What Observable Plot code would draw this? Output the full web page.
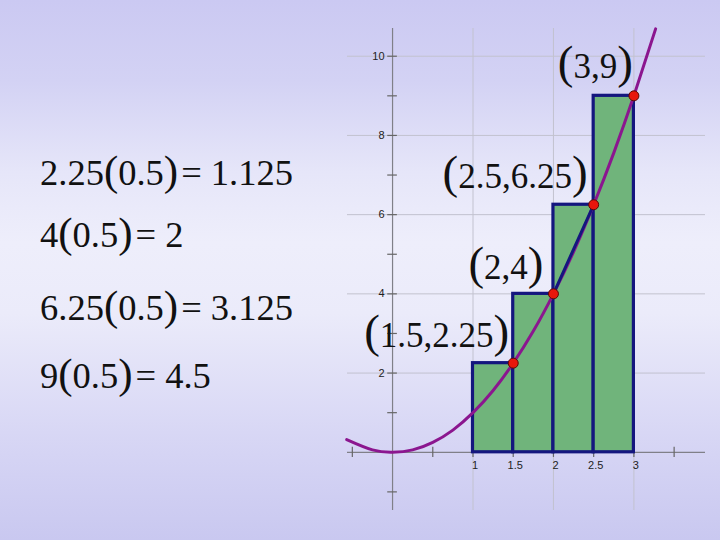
<!DOCTYPE html>
<html><head><meta charset="utf-8">
<script src="https://cdn.jsdelivr.net/npm/d3@7"></script>
<script src="https://cdn.jsdelivr.net/npm/@observablehq/plot@0.6"></script>
<style>
html,body{margin:0;padding:0;}
body{width:720px;height:540px;overflow:hidden;
background:linear-gradient(to bottom,#cbc9f2 0%,#d3d2f4 15%,#e6e6f9 32%,#eeeefb 45%,#ebebfa 58%,#d8d7f5 80%,#c9c8f0 100%);}
#chart svg{display:block;background:transparent;}
</style></head><body><div id="chart"></div>
<script>
// ---- data ----
const leftEdges  = [1, 1.5, 2, 2.5];
const rightEdges = [1.5, 2, 2.5, 3];
const heights    = [2.25, 4, 6.25, 9];
const pointX = [1.5, 2, 2.5, 3];
const pointY = [2.25, 4, 6.25, 9];
const pointLabels = ["(1.5,2.25)", "(2,4)", "(2.5,6.25)", "(3,9)"];
const curveX = [-0.57, -0.25, 0, 0.25, 0.5, 0.75, 1, 1.25, 1.5, 1.75, 2, 2.25, 2.5, 2.75, 3, 3.27];
const curveY = [0.32, 0.06, 0, 0.06, 0.25, 0.56, 1, 1.56, 2.25, 3.06, 4, 5.06, 6.25, 7.56, 9, 10.69];
const xTickVals = [-0.5, 0.5, 1, 1.5, 2, 2.5, 3, 3.5];
const xLabelVals = [1, 1.5, 2, 2.5, 3];
const xLabelText = ["1", "1.5", "2", "2.5", "3"];
const yTickVals = [-1, 1, 2, 3, 4, 5, 6, 7, 8, 9, 10];
const yLabelVals = [2, 4, 6, 8, 10];
const yLabelText = ["2", "4", "6", "8", "10"];
const xGrid = [1, 2, 3];
const yGrid = [2, 4, 6, 8, 10];
const eqHeight = ["2.25", "4", "6.25", "9"];
const eqWidth = "0.5";
const eqArea = ["1.125", "2", "3.125", "4.5"];

// ---- layout ----
const XMIN = -0.56, XMAX = 3.89, YMIN = -1.47, YMAX = 10.7;
const rects = leftEdges.map((x1, i) => ({x1, x2: rightEdges[i], h: heights[i]}));
const curve = curveX.map((x, i) => ({x, y: curveY[i]}));
const pts = pointX.map((x, i) => ({x, y: pointY[i], label: pointLabels[i]}));
const serif = "'Liberation Serif','Times New Roman',serif";
const sans = "'Liberation Sans',Arial,sans-serif";

function labelMark(i, dx, dy) {
  return Plot.text([pts[i]], {x: "x", y: "y", text: "label", textAnchor: "end", lineAnchor: "middle",
    dx, dy, fontSize: 35, fontFamily: serif, fill: "#111"});
}

const plot = Plot.plot({
  width: 720, height: 540, margin: 0,
  style: {background: "transparent", overflow: "visible"},
  x: {domain: [XMIN, XMAX], range: [347, 705], axis: null},
  y: {domain: [YMIN, YMAX], range: [510, 28], axis: null},
  marks: [
    Plot.ruleY(yGrid, {y: d => d, x1: XMIN, x2: XMAX, stroke: "#c2c2cf", strokeWidth: 1}),
    Plot.ruleX(xGrid, {x: d => d, y1: YMIN, y2: YMAX, stroke: "#c2c2cf", strokeWidth: 1}),
    Plot.ruleY([0], {y: d => d, x1: XMIN, x2: XMAX, stroke: "#808088", strokeWidth: 1.2}),
    Plot.ruleX([0], {x: d => d, y1: YMIN, y2: YMAX, stroke: "#808088", strokeWidth: 1.2}),
    Plot.ruleX(xTickVals, {x: d => d, y1: -0.13, y2: 0.13, stroke: "#666", strokeWidth: 1.2}),
    Plot.ruleY(yTickVals, {y: d => d, x1: -0.06, x2: 0.06, stroke: "#666", strokeWidth: 1.2}),
    Plot.text(xLabelVals, {x: d => d, y: 0, text: (d, i) => xLabelText[i], dy: 13, dx: 2,
      fontSize: 11, fontFamily: sans, fill: "#222"}),
    Plot.text(yLabelVals, {x: 0, y: d => d, text: (d, i) => yLabelText[i], dx: -8, textAnchor: "end",
      fontSize: 11, fontFamily: sans, fill: "#222"}),
    Plot.rect(rects, {x1: "x1", x2: "x2", y1: 0, y2: "h", fill: "#70b47b", stroke: "#14167e",
      strokeWidth: 3.2, strokeLinejoin: "miter"}),
    Plot.line(curve, {x: "x", y: "y", curve: "natural", stroke: "#8b168f", strokeWidth: 3}),
    Plot.line(pts.slice(1, 3), {x: "x", y: "y", stroke: "#14167e", strokeWidth: 3}),
    Plot.dot(pts, {x: "x", y: "y", r: 5, fill: "#e8160c", stroke: "#5a0a05", strokeWidth: 1}),
    labelMark(0, -4, -27),
    labelMark(1, -10, -26),
    labelMark(2, -6, -28),
    labelMark(3, -1, -29)
  ]
});
document.getElementById("chart").appendChild(plot);

// enlarge parentheses in point labels
d3.select(plot).selectAll("text").each(function () {
  const s = this.textContent;
  if (!s.startsWith("(") || !s.endsWith(")")) return;
  const t = d3.select(this).text("");
  t.append("tspan").attr("font-size", 47).text("(");
  t.append("tspan").text(s.slice(1, -1));
  t.append("tspan").attr("font-size", 47).text(")");
});

// equations on the left
const baselines = [185, 247, 320, 388];
const eq = d3.select(plot).append("g").attr("font-family", serif).attr("font-size", 36.5)
  .attr("fill", "#111").attr("text-anchor", "start");
eqHeight.forEach((h, i) => {
  const t = eq.append("text").attr("x", 40).attr("y", baselines[i]);
  t.append("tspan").text(h);
  t.append("tspan").attr("font-size", 43).text("(");
  t.append("tspan").text(eqWidth);
  t.append("tspan").attr("font-size", 43).text(")");
  t.append("tspan").attr("dx", 3).text("=");
  t.append("tspan").attr("dx", 9).text(eqArea[i]);
});
</script></body></html>
